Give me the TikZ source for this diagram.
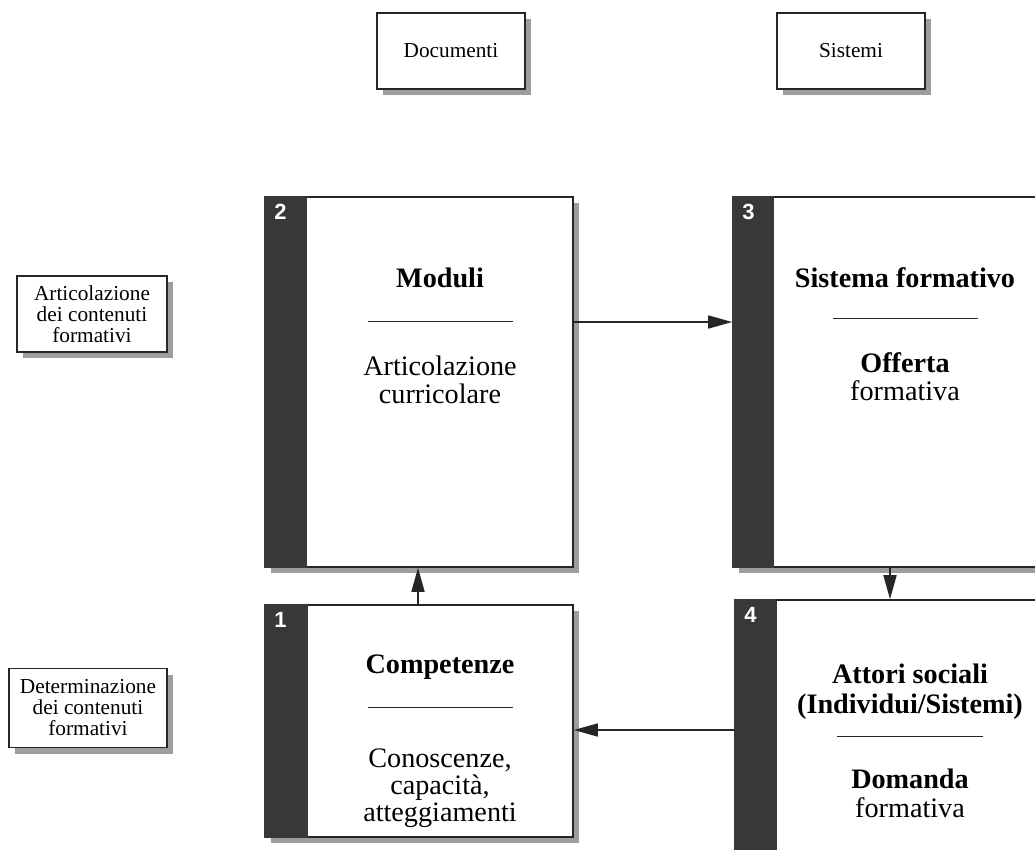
\documentclass[tikz,border=0pt]{standalone}
\usepackage{fontspec}
\setmainfont{Liberation Serif}
\newfontfamily\numfont{Liberation Sans}
\usetikzlibrary{arrows.meta}
\begin{document}
\begin{tikzpicture}[x=1pt,y=-1pt]
\tikzset{
 every node/.style={inner sep=0pt},
 frame/.style={draw=black!85, line width=1.6pt, fill=white},
 shade/.style={fill=black!38, draw=none},
 bar/.style={fill=black!78, draw=none},
 num/.style={text=white, font=\numfont\bfseries\fontsize{22}{22}\selectfont, anchor=north west},
 big/.style={font=\fontsize{28.2}{28}\selectfont, anchor=base},
 bigb/.style={font=\bfseries\fontsize{28.2}{28}\selectfont, anchor=base},
 small/.style={font=\fontsize{21.3}{21}\selectfont, align=center},
 arr/.style={line width=1.6pt, draw=black!85, -{Triangle[length=24pt,width=13pt]}},
 rulel/.style={line width=1pt, draw=black!85}
}
\useasboundingbox (0,0) rectangle (1035,849);
\clip (0,0) rectangle (1035,849);

% small label boxes
\fill[shade] (383,19) rectangle (531,95);
\node[frame, small, minimum width=148pt, minimum height=76pt] (doc) at (451,51) {Documenti};
\fill[shade] (783,19) rectangle (931,95);
\node[frame, small, minimum width=148pt, minimum height=76pt] (sis) at (851,51) {Sistemi};
\fill[shade] (23,282) rectangle (173,358);
\node[frame, small, minimum width=150pt, minimum height=76pt] (art) at (92,314) {Articolazione\\dei contenuti\\formativi};
\fill[shade] (15,675) rectangle (173,754);
\node[frame, small, minimum width=158pt, minimum height=79pt] (det) at (88,708) {Determinazione\\dei contenuti\\formativi};

% main boxes
\fill[shade] (271,203) rectangle (579,573);
\node[frame, minimum width=308pt, minimum height=370pt] (b2) at (419,382) {};
\fill[bar] (b2.north west) rectangle ([xshift=43pt]b2.south west);
\node[num] (n2) at ([xshift=10pt,yshift=-8pt]b2.north west) {2};

\fill[shade] (739,203) rectangle (1051,573);
\node[frame, minimum width=312pt, minimum height=370pt] (b3) at (889,382) {};
\fill[bar] (b3.north west) rectangle ([xshift=42pt]b3.south west);
\node[num] (n3) at ([xshift=10pt,yshift=-8pt]b3.north west) {3};

\fill[shade] (271,611) rectangle (579,843);
\node[frame, minimum width=308pt, minimum height=232pt] (b1) at (419,721) {};
\fill[bar] (b1.north west) rectangle ([xshift=44pt]b1.south west);
\node[num] (n1) at ([xshift=10pt,yshift=-8pt]b1.north west) {1};

\fill[shade] (741,606) rectangle (1051,866);
\node[frame, minimum width=310pt, minimum height=260pt] (b4) at (890,730) {};
\fill[bar] (b4.north west) rectangle ([xshift=43pt]b4.south west);
\node[num] (n4) at ([xshift=10pt,yshift=-8pt]b4.north west) {4};

% texts box 2
\node[bigb] (t2a) at (440,287) {Moduli};
\draw[rulel] (368,321) -- (513,321);
\node[big] (t2b) at (440,375) {Articolazione};
\node[big] (t2c) at (440,403) {curricolare};

% texts box 3
\node[bigb] (t3a) at (905,287) {Sistema formativo};
\draw[rulel] (833,318) -- (978,318);
\node[bigb] (t3b) at (905,372) {Offerta};
\node[big] (t3c) at (905,400) {formativa};

% texts box 4
\node[bigb] (t4a) at (910,683) {Attori sociali};
\node[bigb] (t4b) at (910,713) {(Individui/Sistemi)};
\draw[rulel] (837,736) -- (983,736);
\node[bigb] (t4c) at (910,788) {Domanda};
\node[big] (t4d) at (910,817) {formativa};

% texts box 1
\node[bigb] (t1a) at (440,673) {Competenze};
\draw[rulel] (368,707) -- (513,707);
\node[big] (t1b) at (440,767) {Conoscenze,};
\node[big] (t1c) at (440,794) {capacità,};
\node[big] (t1d) at (440,821) {atteggiamenti};

% connectors
\coordinate (y23) at (0,322);
\coordinate (x34) at (890,0);
\coordinate (x12) at (418,0);
\coordinate (y41) at (0,730);
\draw[arr] (b2.east |- y23) -- (b3.west |- y23);
\draw[arr] (b3.south -| x34) -- (b4.north -| x34);
\draw[arr] (b1.north -| x12) -- (b2.south -| x12);
\draw[arr] (b4.west |- y41) -- (b1.east |- y41);
\end{tikzpicture}
\end{document}
